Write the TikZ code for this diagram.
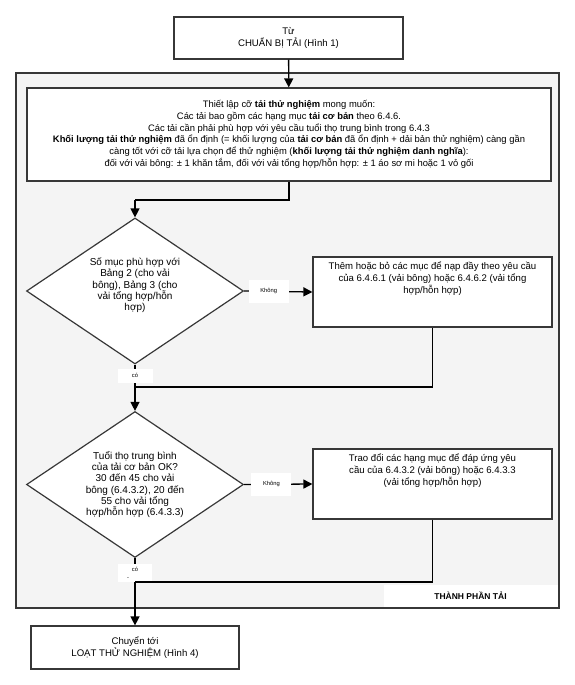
\documentclass[tikz,border=0pt]{standalone}
\usepackage{fontspec}
\setmainfont{Liberation Sans}
\usepackage{tikz}
\usetikzlibrary{arrows.meta,positioning,shapes.geometric,calc}
\definecolor{linegray}{RGB}{55,55,55}
\definecolor{panelgray}{RGB}{244,244,244}
\newcommand{\toptext}[3]{\parbox[c][#1][t]{#2}{\centering #3}}

\begin{document}
\begin{tikzpicture}[x=1pt,y=-1pt,
      font=\fontsize{9.6}{11.7}\selectfont,
      box/.style={draw=linegray,fill=white,line width=1.2pt,inner sep=0pt,align=center},
      dec/.style={diamond,draw=linegray,fill=white,line width=1.2pt,inner sep=0pt,align=center,
                  shape aspect=1.486,minimum width=217pt,minimum height=146pt,
                  font=\fontsize{10}{11.3}\selectfont},
      panel/.style={draw=linegray,fill=panelgray,line width=1.4pt,inner sep=0pt},
      lab/.style={fill=white,inner sep=0pt,font=\fontsize{5.8}{6.5}\selectfont,align=center},
      con/.style={draw=black,line width=1.3pt},
      arr/.style={-{Triangle[length=9pt,width=9pt]}}]
  \useasboundingbox (0,0) rectangle (575,685);
  \node[panel,minimum width=543pt,minimum height=535pt] (grp) at (287.5,340.5) {};
  \node[fill=white,inner sep=0pt,minimum width=174pt,minimum height=22pt,
        font=\bfseries\fontsize{8.5}{9}\selectfont,anchor=south east]
        (grplab) at ($(grp.south east)+(-2,-2)$) {THÀNH PHẦN TẢI};

  \node[box,minimum width=229pt,minimum height=42pt] (from) at (288.5,38)
    {Từ\\CHUẨN BỊ TẢI (Hình 1)};
  \node[box,minimum width=524pt,minimum height=93pt,font=\fontsize{9.4}{11.7}\selectfont] (setup) at (289,134.5)
    {Thiết lập cỡ \textbf{tải thử nghiệm} mong muốn:\\
     Các tải bao gồm các hạng mục \textbf{tải cơ bản} theo 6.4.6.\\
     Các tải cần phải phù hợp với yêu cầu tuổi thọ trung bình trong 6.4.3\\
     \textbf{Khối lượng tải thử nghiệm} đã ổn định (= khối lượng của \textbf{tải cơ bản} đã ổn định + dải bản thử nghiệm) càng gần\\
     càng tốt với cỡ tải lựa chọn để thử nghiệm (\textbf{khối lượng tải thử nghiệm danh nghĩa}):\\
     đối với vải bông: ± 1 khăn tắm, đối với vải tổng hợp/hỗn hợp: ± 1 áo sơ mi hoặc 1 vỏ gối};

  \node[dec] (d1) at (135,291)
    {Số mục phù hợp với\\Bảng 2 (cho vải\\bông), Bảng 3 (cho\\vải tổng hợp/hỗn\\hợp)\\[2pt]};
  \node[box,minimum width=239pt,minimum height=70pt] (add) at (432.5,292)
    {\toptext{60pt}{236pt}{Thêm hoặc bỏ các mục để nạp đầy theo yêu cầu\\
     của 6.4.6.1 (vải bông) hoặc 6.4.6.2 (vải tổng\\hợp/hỗn hợp)}};

  \node[dec] (d2) at (135,484.5)
    {Tuổi thọ trung bình\\của tải cơ bản OK?\\30 đến 45 cho vải\\bông (6.4.3.2), 20 đến\\55 cho vải tổng\\hợp/hỗn hợp (6.4.3.3)};
  \node[box,minimum width=239pt,minimum height=70pt] (swap) at (432.5,484)
    {\toptext{60pt}{236pt}{Trao đổi các hạng mục để đáp ứng yêu\\
     cầu của 6.4.3.2 (vải bông) hoặc 6.4.3.3\\(vải tổng hợp/hỗn hợp)}};

  \node[box,minimum width=208pt,minimum height=43pt] (to) at (135,647.5)
    {Chuyển tới\\LOẠT THỬ NGHIỆM (Hình 4)};

  \coordinate (j0) at (135,200);
  \coordinate (j1) at (135,387);
  \coordinate (j2) at (135,582);

  \draw[con,arr] (from) -- (setup);
  \draw[con] (setup.south) |- (j0);
  \draw[con,arr] (j0) -- (d1.north);
  \draw[con,arr] (d1.east) -- node[lab,pos=0.36,minimum width=40pt,minimum height=23pt]{Không} (add.west);
  \draw[con] (d1.south) -- node[lab,minimum width=35pt,minimum height=14pt]{có} (j1);
  \draw[con] (add.south) |- (j1);
  \draw[con,arr] (j1) -- (d2.north);
  \draw[con,arr] (d2.east) -- node[lab,pos=0.4,minimum width=40pt,minimum height=23pt]{Không} (swap.west);
  \draw[con] (d2.south) -- node[lab,pos=0.64,minimum width=34pt,minimum height=18pt]{có\\[1pt]\hspace*{-14pt}-} (j2);
  \draw[con] (swap.south) |- (j2);
  \draw[con,arr] (j2) -- (to.north);
\end{tikzpicture}
\end{document}
